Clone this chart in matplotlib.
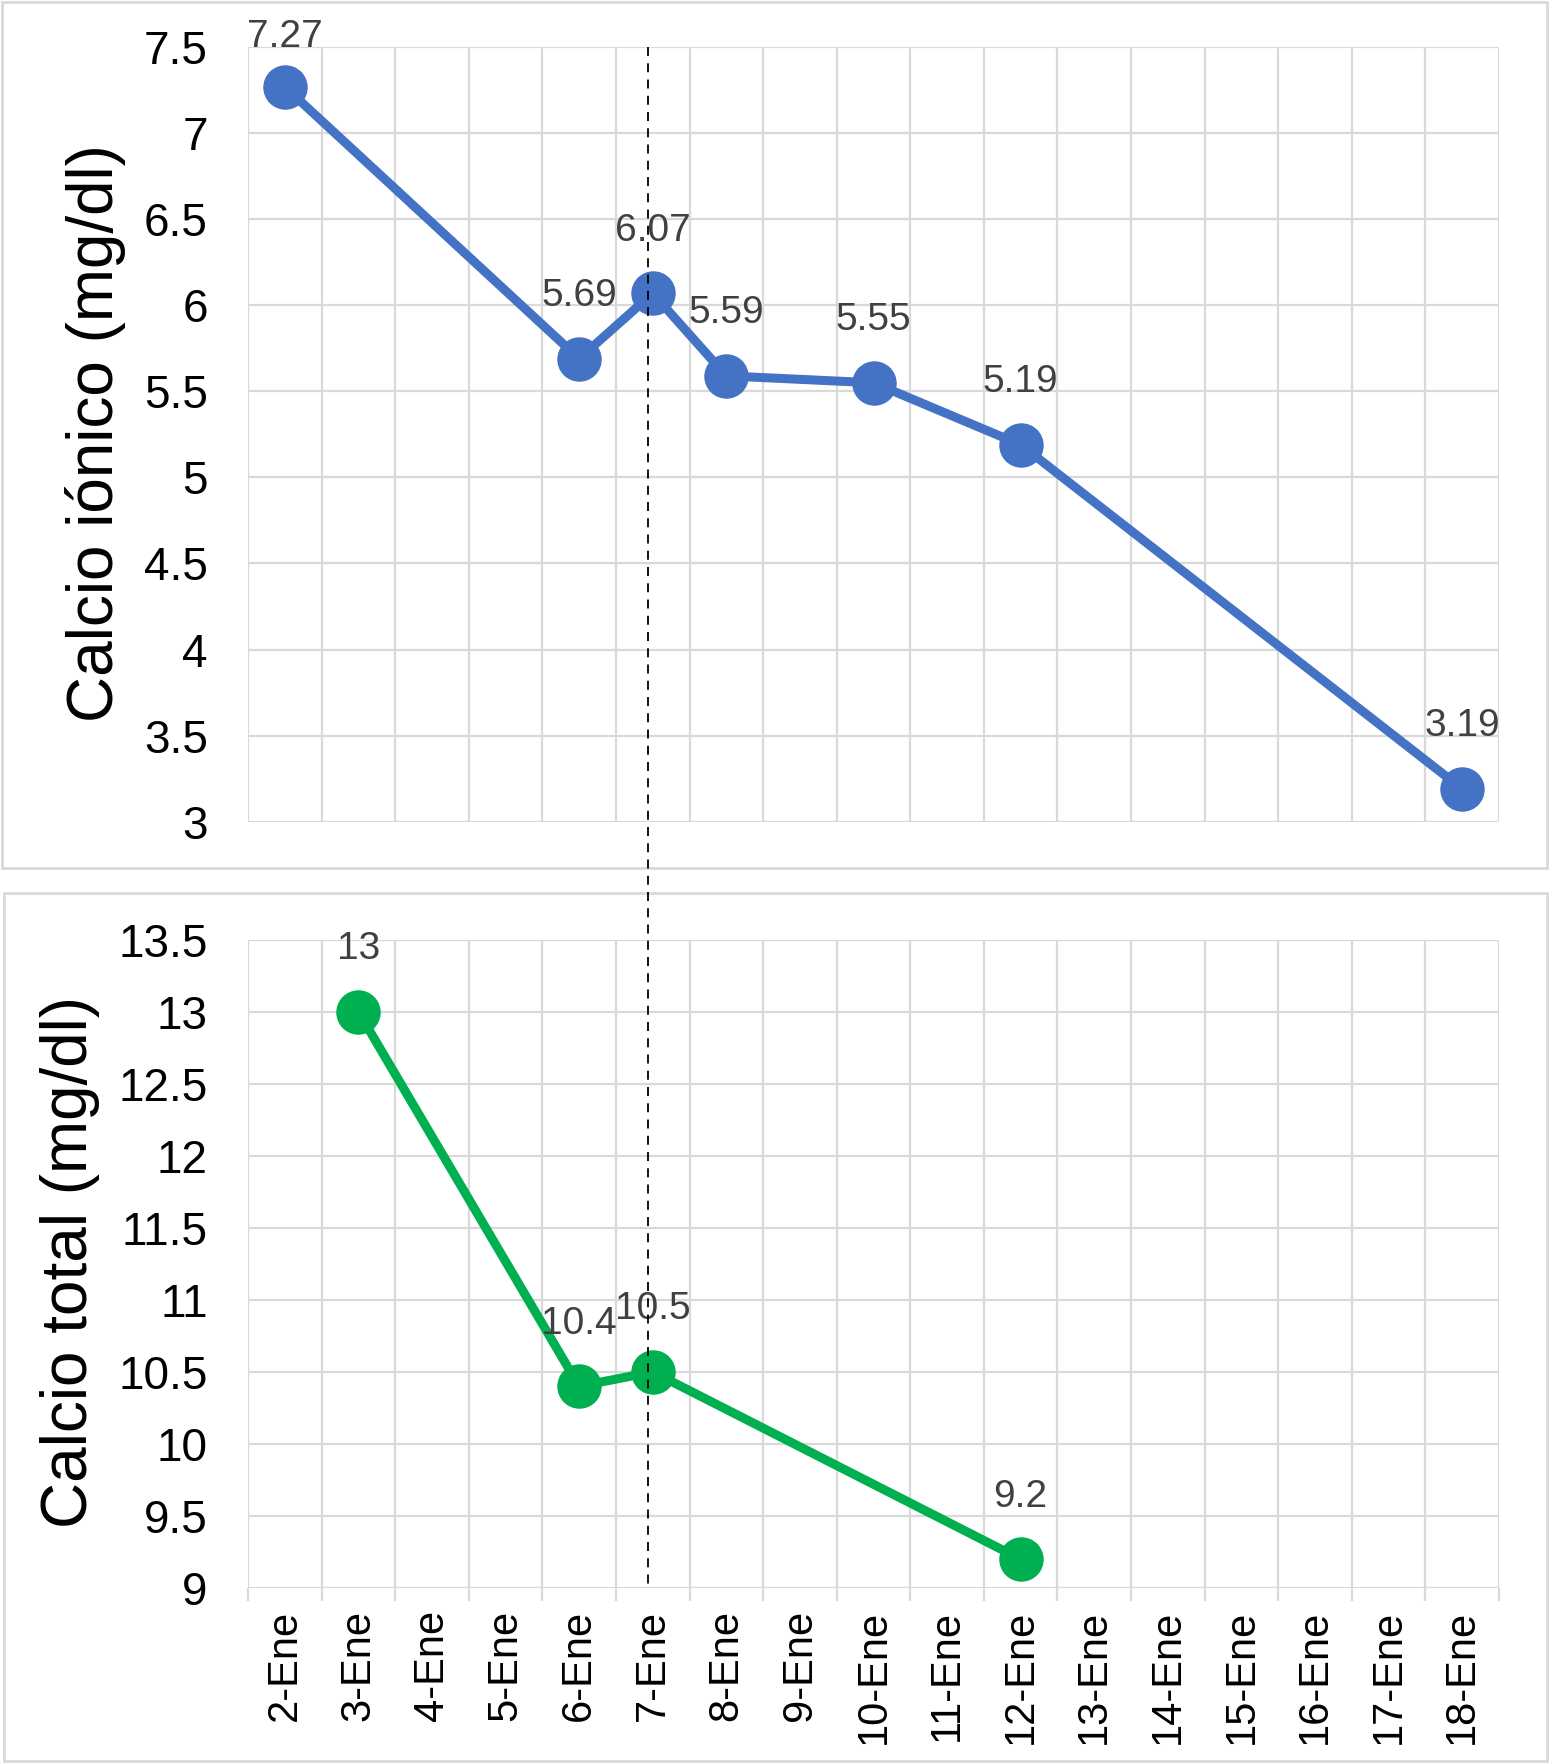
import matplotlib
matplotlib.use("Agg")
import matplotlib.pyplot as plt
from matplotlib.patches import Rectangle
from matplotlib.lines import Line2D
import numpy as np

plt.rcParams['font.family'] = ['Liberation Sans', 'DejaVu Sans']

categories = ["2-Ene", "3-Ene", "4-Ene", "5-Ene", "6-Ene", "7-Ene", "8-Ene", "9-Ene",
              "10-Ene", "11-Ene", "12-Ene", "13-Ene", "14-Ene", "15-Ene", "16-Ene",
              "17-Ene", "18-Ene"]
calcio_ionico = [7.27, None, None, None, 5.69, 6.07, 5.59, None, 5.55, None, 5.19,
                 None, None, None, None, None, 3.19]
calcio_total = [None, 13, None, None, 10.4, 10.5, None, None, None, None, 9.2,
                None, None, None, None, None, None]
ionico_ticks = [3, 3.5, 4, 4.5, 5, 5.5, 6, 6.5, 7, 7.5]
total_ticks = [9, 9.5, 10, 10.5, 11, 11.5, 12, 12.5, 13, 13.5]
marker_day = "7-Ene"

W, H = 1550, 1763
fig = plt.figure(figsize=(W / 100, H / 100), dpi=100)

GRID = "#d9d9d9"
LABEL_C = "#404040"

# panel frames
fig.patches.append(Rectangle((2 / W, 1 - 868 / H), 1545 / W, 866 / H, transform=fig.transFigure,
                             fill=False, edgecolor=GRID, linewidth=2))
fig.patches.append(Rectangle((4 / W, 1 - 1761 / H), 1543 / W, (1761 - 893) / H, transform=fig.transFigure,
                             fill=False, edgecolor=GRID, linewidth=2))

left = 248 / W
width = 1251 / W
ax1 = fig.add_axes([left, 1 - 821.6 / H, width, (821.6 - 47.2) / H])
ax2 = fig.add_axes([left, 1 - 1588 / H, width, (1588 - 939.7) / H])

n = len(categories)
xs = np.arange(n)


def style(ax, ticks, show_x):
    ax.set_xlim(-0.5, n - 0.5)
    ax.set_ylim(ticks[0], ticks[-1])
    for s in ax.spines.values():
        s.set_visible(False)
    ax.set_yticks(ticks)
    ax.set_yticklabels([f"{t:g}" for t in ticks], fontsize=33)
    ax.tick_params(axis='y', length=0, pad=29)
    ax.set_xticks(xs)
    ax.set_xticks(np.arange(n + 1) - 0.5, minor=True)
    ax.grid(False)
    ax.grid(True, which='minor', axis='x', color=GRID, linewidth=1.6)
    ax.grid(True, which='major', axis='y', color=GRID, linewidth=1.6)
    ax.set_axisbelow(True)
    if show_x:
        ax.set_xticklabels(categories, rotation=90, fontsize=30, va='top', ha='center')
        ax.tick_params(axis='x', which='major', length=0, pad=16)
        ax.tick_params(axis='x', which='minor', length=9, width=1.6, color=GRID)
    else:
        ax.set_xticklabels([])
        ax.tick_params(axis='x', which='both', length=0)


style(ax1, ionico_ticks, False)
style(ax2, total_ticks, True)


def plot_series(ax, vals, color, top_limit):
    px = [i for i, v in enumerate(vals) if v is not None]
    py = [v for v in vals if v is not None]
    ax.plot(px, py, color=color, linewidth=6.5, marker='o', markersize=31, zorder=3,
            clip_on=False, solid_capstyle='round')
    for x, y in zip(px, py):
        # labels near the top of the panel are kept inside the chart area
        off = 45 if y < top_limit else 36
        ax.annotate(f"{y:g}", (x, y), xytext=(0, off), textcoords='offset points',
                    ha='center', va='center', fontsize=28, color=LABEL_C, zorder=4,
                    annotation_clip=False)


plot_series(ax1, calcio_ionico, "#4472C4", ionico_ticks[-1] - 0.3)
plot_series(ax2, calcio_total, "#00B050", total_ticks[-1] + 1)

# dashed vertical marker spanning both panels
fig.canvas.draw()
xd = categories.index(marker_day) - 0.07
x_fig = fig.transFigure.inverted().transform(ax1.transData.transform((xd, ionico_ticks[-1])))
x_fig2 = fig.transFigure.inverted().transform(ax2.transData.transform((xd, total_ticks[0])))
fig.lines.append(Line2D([x_fig[0], x_fig2[0]], [x_fig[1], x_fig2[1]], transform=fig.transFigure,
                        color='black', linewidth=1.3, linestyle=(0, (5, 4)), zorder=5))

fig.text(96 / W, 1 - 433 / H, "Calcio iónico (mg/dl)", rotation=90, ha='center', va='center',
         fontsize=46)
fig.text(70 / W, 1 - 1262 / H, "Calcio total (mg/dl)", rotation=90, ha='center', va='center',
         fontsize=46)

fig.savefig("out.png", dpi=100)
